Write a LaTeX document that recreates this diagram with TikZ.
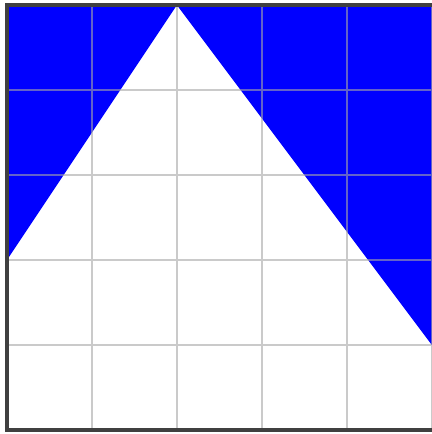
\documentclass[tikz,border=0pt]{standalone}
\usepackage{xcolor}
\usepackage{tikz}

\begin{document}
\begin{tikzpicture}[
    region/.style={fill=blue, draw=none},
    gridline/.style={draw=gray!70, line width=0.6pt, opacity=0.6},
    frame/.style={draw=black!75, line width=1.3pt},
  ]
  \useasboundingbox (-0.082,-0.047) rectangle (5.0,5.06);
  % shaded corners
  \fill[region] (0,5) -- (2,5) -- (0,2) -- cycle;
  \fill[region] (2,5) -- (5,5) -- (5,1) -- cycle;
  % grid
  \draw[gridline] (0,0) grid (5,5);
  % outer frame
  \draw[frame] (5,5) -- (0,5) -- (0,0) -- (5,0);
\end{tikzpicture}
\end{document}
